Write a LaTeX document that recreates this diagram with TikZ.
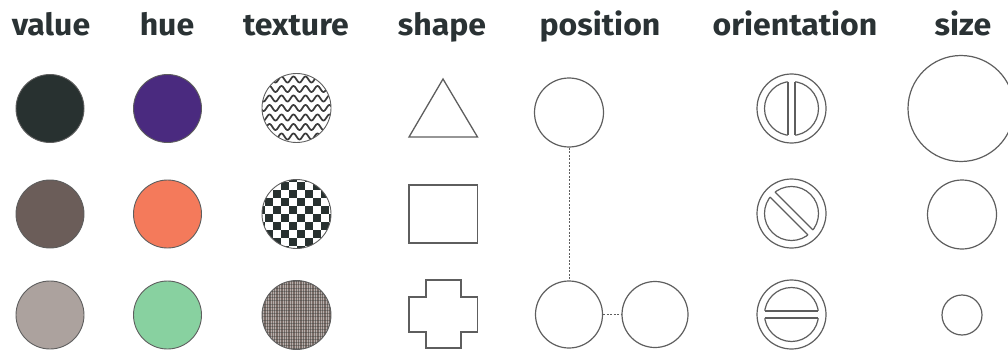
\documentclass[tikz,border=0pt]{standalone}
\usepackage{fontspec}
\newfontfamily\hdrfont{Fira Sans}[FakeStretch=1.05]
\definecolor{ink}{HTML}{2A3234}
\definecolor{lin}{HTML}{5E5E5E}
\definecolor{val1}{HTML}{283130}
\definecolor{val2}{HTML}{6B5D59}
\definecolor{val3}{HTML}{ACA29E}
\definecolor{hue1}{HTML}{4A2A7F}
\definecolor{hue2}{HTML}{F47A5B}
\definecolor{hue3}{HTML}{88D1A0}
\definecolor{tex3}{HTML}{7A6C67}
\definecolor{wave}{HTML}{3A3A3A}
\tikzset{
  hdr/.style={anchor=base, text=ink, font=\hdrfont\bfseries\fontsize{30.5}{30.5}\selectfont, inner sep=0pt},
  disc/.style={circle, inner sep=0pt, minimum size=68pt, draw=lin, line width=0.9pt},
  ring/.style={circle, inner sep=0pt, draw=lin, line width=1.2pt},
  outl/.style={draw=lin, line width=1.3pt, line join=miter},
  link/.style={draw=lin, dashed, dash pattern=on 2pt off 1.5pt, line width=0.7pt}
}
\begin{document}
\begin{tikzpicture}[x=1pt,y=-1pt]
\useasboundingbox (0,0) rectangle (1008,350);
% headers
\node[hdr] (h1) at (51,36) {value};
\node[hdr] (h2) at (167,36) {hue};
\node[hdr] (h3) at (296,36) {texture};
\node[hdr] (h4) at (442,36) {shape};
\node[hdr] (h5) at (600,36) {position};
\node[hdr] (h6) at (795,36) {orientation};
\node[hdr] (h7) at (963,36) {size};
% value
\node[disc, fill=val1] (v1) at (50,108.5) {};
\node[disc, fill=val2] (v2) at (50,214) {};
\node[disc, fill=val3] (v3) at (50,315) {};
% hue
\node[disc, fill=hue1] (u1) at (167.5,108.5) {};
\node[disc, fill=hue2] (u2) at (167.5,214) {};
\node[disc, fill=hue3] (u3) at (167.5,315) {};
% texture
\node[disc, minimum size=69pt, fill=white, path picture={
  \begin{scope}[shift={(path picture bounding box.center)}]
    \foreach \k in {-4,...,4}{
      \draw[wave, line width=1.7pt] plot[domain=-40:40, samples=90, smooth]
        (\x, {9.5*\k + 3*sin(\x*360/12)});
    }
  \end{scope}}] (t1) at (296.5,108) {};
\node[disc, minimum size=69pt, fill=white, path picture={
  \begin{scope}[shift={(path picture bounding box.center)}]
    \foreach \i in {-5,...,4}{
      \foreach \j in {-5,...,4}{
        \pgfmathtruncatemacro{\parity}{mod(\i+\j+20,2)}
        \ifnum\parity=0
          \fill[val1] (\i*8,\j*8) rectangle ++(8,8);
        \fi
      }
    }
  \end{scope}}] (t2) at (296.5,214) {};
\node[disc, minimum size=69pt, fill=tex3, path picture={
  \begin{scope}[shift={(path picture bounding box.center)}]
    \foreach \i in {-40,-37.6,...,40}{
      \draw[white, opacity=0.45, line width=0.7pt] (\i,-40) -- (\i,40);
    }
    \foreach \i in {-40,-36.8,...,40}{
      \draw[val1, opacity=0.35, line width=0.6pt] (-40,\i) -- (40,\i);
    }
  \end{scope}}] (t3) at (296.5,315) {};
% shape
\draw[outl] (443,79) -- (477.5,137) -- (409,137) -- cycle;
\node[rectangle, draw=lin, line width=1.3pt, minimum width=68.5pt, minimum height=58pt, inner sep=0pt] (s2) at (443.25,214) {};
\draw[outl] (426,280) -- (461,280) -- (461,297) -- (477.5,297) -- (477.5,332) -- (461,332)
  -- (461,348) -- (426,348) -- (426,332) -- (409,332) -- (409,297) -- (426,297) -- cycle;
% position
\node[ring, minimum size=69pt] (p1) at (569,112.5) {};
\node[ring, minimum size=67pt] (p2) at (569,314.5) {};
\node[ring, minimum size=66pt] (p3) at (655,314.5) {};
\draw[link] (p1.south) -- (p2.north);
\draw[link] (p2.east) -- (p3.west);
% orientation
\foreach \n/\y/\r in {o1/108.5/0, o2/213.5/45, o3/314.5/90}{
  \node[ring, minimum size=69pt] (\n) at (791.5,\y) {};
  \begin{scope}[shift={(\n.center)}, rotate=\r]
    \draw[lin, line width=1.2pt] (0,0) circle[radius=27pt];
    \fill[white] (-3.5,-28.5) rectangle (3.5,28.5);
    \draw[lin, line width=1.2pt] (-3.5,-26.77) -- (-3.5,26.77) (3.5,-26.77) -- (3.5,26.77);
  \end{scope}
}
% size
\node[ring, minimum size=106pt] (z1) at (961,108.5) {};
\node[ring, minimum size=69pt] (z2) at (962,214.5) {};
\node[ring, minimum size=40pt] (z3) at (962,315) {};
\end{tikzpicture}
\end{document}
